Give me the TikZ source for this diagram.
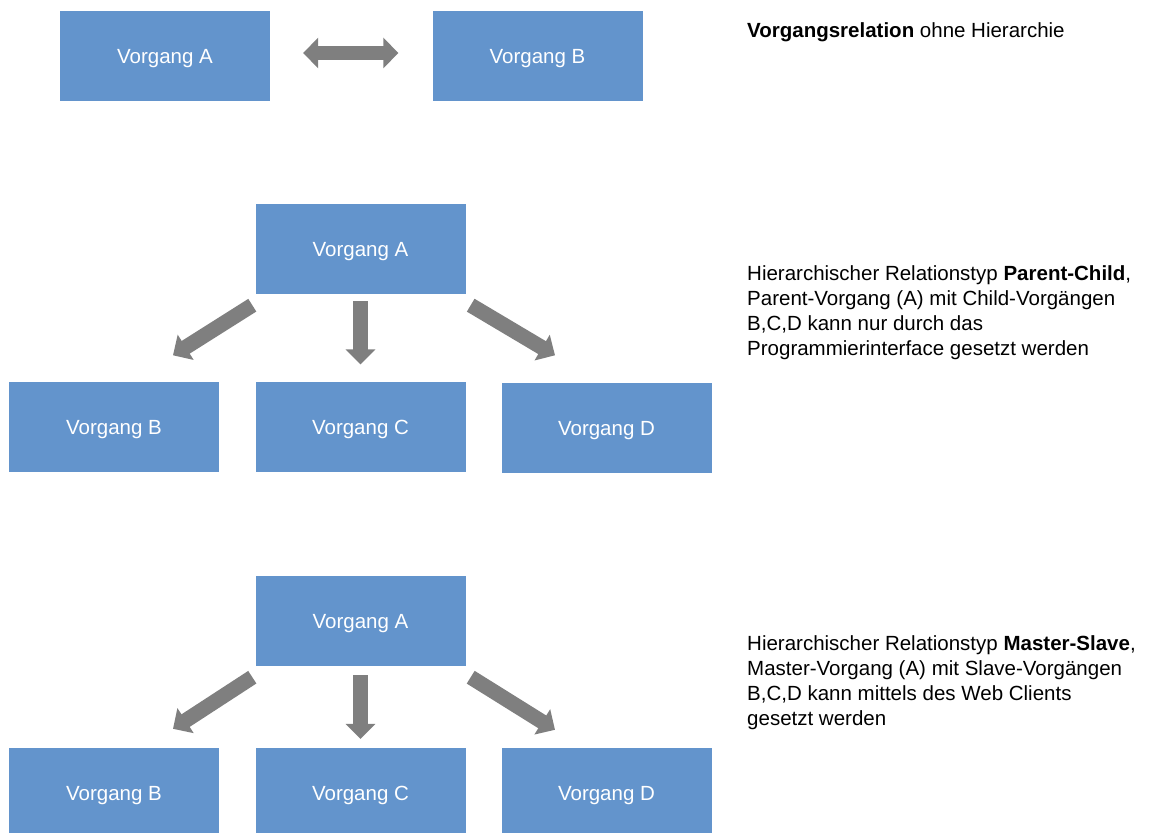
\documentclass[tikz,border=0pt]{standalone}
\usepackage{fontspec}
\setmainfont{Liberation Sans}
\usepackage{xcolor}
\usetikzlibrary{arrows.meta, calc}

\definecolor{boxblue}{RGB}{99,148,204}
\definecolor{arrowgray}{RGB}{127,127,127}

\begin{document}
\begin{tikzpicture}[
    x=1pt, y=-1pt,
    every node/.style={font=\fontsize{20.5}{25}\selectfont},
    vbox/.style={rectangle, fill=boxblue, text=white,
                 minimum width=210pt, minimum height=90pt, inner sep=0pt,
                 text height=15pt, text depth=0pt},
    note/.style={anchor=base west, align=left, inner sep=0pt},
    fatarrow/.style={draw=arrowgray, line width=15pt,
                     -{Triangle[width=29pt,length=15pt]}},
    twoarrow/.style={draw=arrowgray, line width=14pt,
                     {Triangle[width=30pt,length=15pt]}-{Triangle[width=30pt,length=15pt]}}
]
\useasboundingbox (0,0) rectangle (1155,832);
\clip (0,0) rectangle (1155,832);

% ohne Hierarchie
\node (a1) [vbox] at (165,56) {Vorgang A};
\node (b1) [vbox] at (537.5,56) {Vorgang B};
\draw [twoarrow] ($(a1.east)+(33,-3)$) -- ($(b1.west)+(-34,-3)$);
\node (t1) [note] at (747,38) {\textbf{Vorgangsrelation} ohne Hierarchie};

% Parent-Child
\node (a2) [vbox] at (360.5,249) {Vorgang A};
\node (b2) [vbox] at (114,426.5) {Vorgang B};
\node (c2) [vbox] at (360.5,426.5) {Vorgang C};
\node (d2) [vbox] at (606.5,427.5) {Vorgang D};
\draw [fatarrow] ($(a2.south west)+(-3,11)$) -- ($(b2.north)+(59,-26)$);
\draw [fatarrow] ($(a2.south)+(0,7)$) -- ($(c2.north)+(0,-17)$);
\draw [fatarrow] ($(a2.south east)+(5,11)$) -- ($(d2.north)+(-51.5,-27)$);
\node (t2) [note] at (747,355)
    {Hierarchischer Relationstyp \textbf{Parent-Child},\\
     Parent-Vorgang (A) mit Child-Vorgängen\\
     B,C,D kann nur durch das\\
     Programmierinterface gesetzt werden};

% Master-Slave
\node (a3) [vbox] at (360.5,621) {Vorgang A};
\node (b3) [vbox] at (114,793) {Vorgang B};
\node (c3) [vbox] at (360.5,793) {Vorgang C};
\node (d3) [vbox] at (606.5,793) {Vorgang D};
\draw [fatarrow] ($(a3.south west)+(-3,11)$) -- ($(b3.north)+(59,-19)$);
\draw [fatarrow] ($(a3.south)+(0,9)$) -- ($(c3.north)+(0,-9)$);
\draw [fatarrow] ($(a3.south east)+(5,11)$) -- ($(d3.north)+(-51.5,-18)$);
\node (t3) [note] at (747,725)
    {Hierarchischer Relationstyp \textbf{Master-Slave},\\
     Master-Vorgang (A) mit Slave-Vorgängen\\
     B,C,D kann mittels des Web Clients\\
     gesetzt werden};
\end{tikzpicture}
\end{document}
